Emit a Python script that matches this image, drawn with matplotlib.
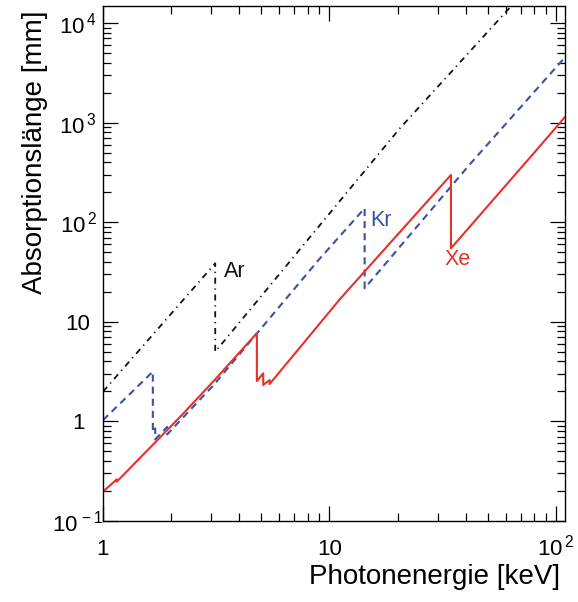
import matplotlib
matplotlib.use("Agg")
import matplotlib.pyplot as plt

plt.rcParams['font.family'] = ['Liberation Sans', 'DejaVu Sans']
plt.rcParams['mathtext.fontset'] = 'custom'
plt.rcParams['mathtext.rm'] = 'Liberation Sans'
plt.rcParams['mathtext.it'] = 'Liberation Sans:italic'
plt.rcParams['mathtext.bf'] = 'Liberation Sans:bold'

# ---- data (photon energy in keV, absorption length in mm) ----
ar_energy = [1.0, 3.13, 3.13, 20.5, 63.5]
ar_length = [1.99, 38.6, 5.0, 880, 14800]

kr_energy = [1.0, 1.66, 1.66, 1.70, 1.70, 1.92, 1.92, 3.08, 8.95, 14.3, 14.3, 41.8, 110]
kr_length = [1.03, 3.16, 0.78, 0.85, 0.66, 0.88, 0.74, 2.32, 41.7, 138, 21.7, 384, 4560]

xe_energy = [1.0, 1.15, 1.15, 2.19, 3.08, 4.78, 4.78, 5.10, 5.10, 5.44, 5.44, 11.2, 34.4, 34.4, 75.2, 110]
xe_length = [0.197, 0.262, 0.248, 1.11, 2.54, 7.68, 2.54, 3.04, 2.32, 2.60, 2.37, 17.2, 298, 54.7, 421, 1146]

gas_labels = ['Ar', 'Kr', 'Xe']
label_pos_x = [3.41, 15.1, 32.3]
label_pos_y = [31.8, 103, 42.2]

x_major = [1, 10, 100]
x_major_labels = ['1', '10', r'$\mathregular{10^{\,2}}$']
y_major = [0.1, 1, 10, 100, 1000, 10000]
y_major_labels = [r'$\mathregular{10^{\,-1}}$', '1', '10',
                  r'$\mathregular{10^{\,2}}$', r'$\mathregular{10^{\,3}}$',
                  r'$\mathregular{10^{\,4}}$']

RED = '#e8302a'
BLUE = '#3a52a6'
BLACK = '#111111'

fig = plt.figure(figsize=(5.78, 6.02), dpi=100)
ax = fig.add_axes([103 / 578, 1 - 521 / 602, 462.3 / 578, 515 / 602])
ax.set_xscale('log')
ax.set_yscale('log')

ax.plot(ar_energy, ar_length, color=BLACK, lw=1.3,
        linestyle=(0, (3.4, 2.6, 0.7, 2.6)))
ax.plot(kr_energy, kr_length, color=BLUE, lw=1.5,
        linestyle=(0, (3.4, 2.4)))
ax.plot(xe_energy, xe_length, color=RED, lw=1.5, linestyle='-')

colors = [BLACK, BLUE, RED]
for name, lx, ly, c in zip(gas_labels, label_pos_x, label_pos_y, colors):
    ax.text(lx, ly, name, color=c, fontsize=15.5, ha='left', va='center')

ax.set_xlim(1, 110)
ax.set_ylim(0.1, 14800)

# ticks
ax.set_xticks(x_major, x_major_labels)
xminor = [m * d for d in (1, 10) for m in range(2, 10)]
ax.set_xticks(xminor, minor=True)
ax.set_yticks(y_major, y_major_labels)
yminor = [m * d for d in (0.1, 1, 10, 100, 1000) for m in range(2, 10)]
yminor = [v for v in yminor if v <= 14800]
ax.set_yticks(yminor, minor=True)

ax.tick_params(which='both', direction='in', top=True, right=True,
               width=0.9, colors='black', labelsize=16)
ax.tick_params(which='major', length=10.5)
ax.tick_params(which='minor', length=5.5, labelbottom=False, labelleft=False)
ax.tick_params(axis='x', which='major', pad=24.5)
ax.tick_params(axis='y', which='major', pad=18)
for lab in ax.get_xticklabels():
    lab.set_va('baseline')
for lab in ax.get_yticklabels():
    lab.set_ha('center')

for sp in ax.spines.values():
    sp.set_linewidth(1.0)

ax.set_xlabel('Photonenergie [keV]', fontsize=20, ha='right', va='top')
ax.xaxis.set_label_coords(0.989, -0.083)
ax.set_ylabel('Absorptionslänge [mm]', fontsize=20, ha='right', va='bottom')
ax.yaxis.set_label_coords(-0.118, 0.992)

fig.savefig('out.png', dpi=100)
